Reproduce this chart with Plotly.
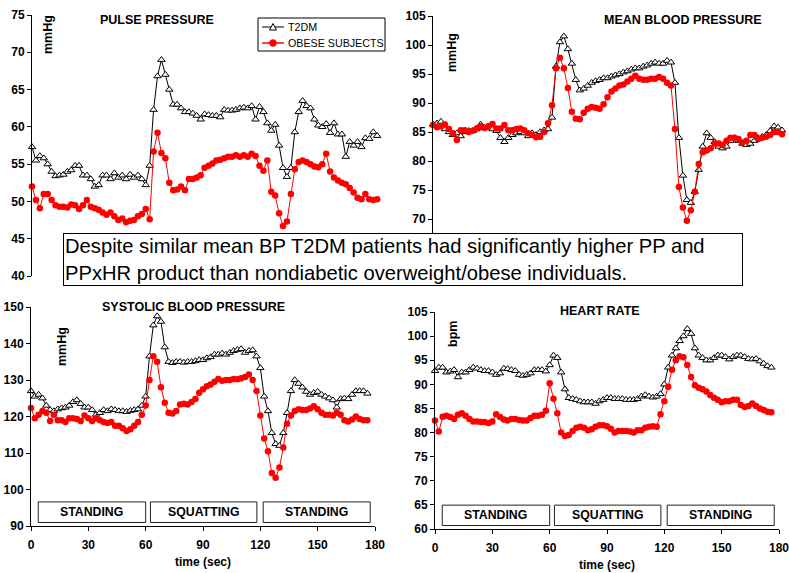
import plotly.graph_objects as go

# ---------------- data ----------------
time_s = list(range(0, 177, 2))

pp_t2dm = [57.3, 55.5, 56.1, 55.8, 55.0, 54.0, 53.4, 53.5, 53.6, 54.0,
           54.2, 54.8, 54.8, 53.5, 53.5, 53.0, 52.0, 52.2, 53.5, 53.5,
           53.0, 53.8, 53.2, 53.5, 53.0, 53.6, 53.2, 53.5, 53.0, 52.2,
           54.8, 62.3, 66.8, 69.0, 67.0, 65.0, 63.0, 63.0, 62.5, 62.0,
           62.0, 61.8, 61.5, 61.0, 61.7, 61.6, 61.5, 61.5, 61.3, 62.3,
           62.2, 62.2, 62.3, 62.5, 62.6, 62.5, 62.8, 61.0, 62.7, 62.0,
           60.5, 59.5, 60.3, 57.5, 54.5, 53.3, 54.5, 59.3, 62.0, 63.5,
           62.8, 62.5, 61.0, 60.2, 60.0, 60.4, 59.2, 60.5, 59.0, 59.0,
           56.0, 58.0, 57.5, 58.0, 57.3, 58.5, 58.4, 59.3, 58.8]
pp_obese = [52.0, 50.2, 49.1, 51.0, 51.0, 50.2, 49.5, 49.3, 49.3, 49.2,
            49.6, 49.5, 49.0, 49.5, 50.2, 49.3, 49.1, 48.9, 48.5, 48.2,
            48.5, 48.0, 47.5, 47.7, 47.2, 47.4, 47.5, 48.0, 48.3, 49.0,
            47.6, 56.7, 59.2, 56.5, 55.8, 52.5, 51.5, 51.6, 52.0, 51.5,
            53.0, 53.0, 53.2, 53.5, 54.5, 54.8, 55.1, 55.5, 55.6, 55.8,
            56.0, 56.0, 56.2, 56.0, 56.2, 56.0, 56.4, 56.1, 54.8, 54.1,
            55.5, 51.3, 50.8, 48.4, 46.7, 47.3, 51.0, 54.3, 55.3, 55.5,
            55.3, 55.0, 54.7, 54.6, 55.0, 56.4, 54.0, 53.2, 52.8, 52.5,
            52.3, 51.8, 51.2, 50.5, 50.3, 51.0, 50.3, 50.2, 50.3]

mbp_t2dm = [86.3, 86.5, 86.8, 85.5, 85.0, 84.5, 84.8, 84.3, 85.0, 85.2,
            85.2, 85.5, 86.3, 85.7, 86.0, 85.5, 85.2, 84.0, 83.3, 84.0,
            84.5, 84.8, 85.0, 84.8, 84.3, 84.8, 84.5, 85.0, 85.3, 85.5,
            87.5, 96.3, 100.5, 101.5, 99.3, 96.8, 94.0, 92.2, 92.5, 93.0,
            93.5, 93.8, 94.0, 94.3, 94.3, 94.6, 94.8, 95.0, 95.3, 95.5,
            95.8, 96.0, 96.0, 96.3, 96.5, 96.8, 97.0, 96.8, 96.8, 97.3,
            97.0, 93.5, 84.0, 77.5, 73.3, 72.8, 74.7, 78.5, 82.5, 84.8,
            84.0, 83.3, 82.5, 82.2, 82.5, 83.5, 84.0, 83.5, 83.0, 82.8,
            83.0, 83.5, 84.0, 84.2, 84.5, 85.2, 86.0, 85.8, 85.3]
mbp_obese = [86.2, 85.8, 86.0, 86.3, 85.5, 84.8, 83.6, 85.3, 85.3, 85.0,
             85.2, 85.6, 86.0, 85.7, 86.0, 86.4, 85.6, 85.6, 86.2, 85.3,
             85.3, 85.5, 85.6, 85.3, 84.8, 84.5, 84.1, 84.2, 85.0, 86.5,
             89.6, 96.0, 97.8, 96.0, 92.6, 88.5, 87.3, 87.2, 88.3, 89.0,
             89.3, 89.2, 89.0, 89.8, 91.0, 92.0, 92.5, 93.0, 93.2, 93.7,
             94.2, 94.7, 94.2, 94.0, 94.0, 94.2, 94.2, 94.5, 94.2, 93.5,
             93.0, 85.5, 75.5, 72.0, 69.7, 71.5, 74.7, 79.5, 81.5, 81.8,
             82.2, 83.0, 83.0, 82.8, 83.5, 84.0, 84.0, 83.8, 83.2, 83.5,
             84.5, 84.5, 83.8, 84.0, 84.2, 84.5, 85.0, 85.0, 84.6]

sbp_t2dm = [127.0, 125.5, 126.0, 125.0, 123.0, 121.8, 121.5, 122.0, 122.3, 122.5,
            123.0, 124.0, 124.5, 123.5, 122.5, 122.5, 121.8, 120.5, 121.0, 121.8,
            121.5, 122.0, 121.8, 121.5, 121.5, 121.3, 121.6, 121.8, 122.0, 123.0,
            125.5, 136.5, 145.0, 147.5, 146.0, 139.0, 135.0, 134.7, 135.0, 135.0,
            134.8, 135.0, 135.0, 135.2, 135.5, 135.5, 136.0, 136.3, 137.0, 137.0,
            137.3, 137.0, 137.5, 138.0, 138.3, 138.5, 137.5, 138.0, 138.2, 136.5,
            133.3, 125.5, 121.5, 115.5, 112.5, 112.0, 115.5, 121.0, 127.0, 130.0,
            129.0, 128.0, 126.8, 126.0, 126.5, 126.8, 126.0, 125.5, 125.0, 124.5,
            122.5, 124.8, 125.0, 124.8, 126.0, 127.0, 127.0, 127.0, 126.3]
sbp_obese = [122.3, 119.5, 120.5, 121.5, 121.0, 118.8, 120.5, 119.0, 119.0, 118.5,
             119.5, 119.5, 119.3, 118.8, 120.3, 119.5, 118.8, 119.5, 119.0, 118.5,
             118.2, 118.5, 117.5, 117.5, 116.8, 116.0, 116.5, 117.5, 118.5, 120.5,
             123.0, 130.0, 136.5, 135.0, 128.0, 123.8, 121.0, 120.8, 121.5, 123.3,
             123.5, 123.3, 124.0, 124.8, 126.5, 127.5, 128.3, 128.8, 129.5, 130.3,
             129.8, 130.0, 130.0, 130.3, 130.2, 130.5, 130.8, 131.5, 130.0, 127.0,
             120.3, 114.0, 110.5, 104.5, 103.2, 106.0, 111.5, 118.0, 120.3, 121.5,
             122.0, 121.8, 121.8, 122.2, 122.8, 122.0, 121.0, 120.5, 120.5, 120.3,
             121.0, 120.5, 119.0, 118.6, 119.2, 120.0, 119.3, 119.0, 119.0]

hr_t2dm = [92.8, 93.5, 93.5, 92.5, 92.7, 93.0, 91.5, 92.5, 92.5, 93.0,
           93.5, 93.3, 93.0, 92.8, 92.8, 92.5, 92.0, 92.3, 93.3, 93.2,
           93.0, 92.8, 92.0, 91.8, 92.0, 92.3, 93.0, 93.0, 93.0, 92.7,
           94.0, 96.0, 95.5, 92.5, 89.0, 87.2, 87.0, 86.8, 86.5, 86.3,
           86.3, 86.3, 86.0, 86.5, 86.8, 87.2, 87.2, 87.0, 87.0, 87.0,
           86.8, 86.8, 86.8, 87.0, 87.5, 87.8, 87.5, 87.3, 87.5, 88.0,
           90.0, 93.5, 96.0, 97.5, 99.0, 100.0, 101.5, 100.5, 97.5, 96.0,
           95.5, 95.0, 95.0, 95.5, 96.0, 96.0, 95.7, 95.2, 95.7, 96.0,
           96.0, 95.7, 95.3, 95.2, 95.3, 94.8, 94.3, 93.8, 93.5]
hr_obese = [82.5, 80.2, 83.3, 83.5, 83.2, 82.8, 83.7, 84.0, 83.5, 82.8,
            82.3, 82.3, 82.2, 82.2, 82.0, 82.3, 83.8, 83.2, 82.7, 82.5,
            82.8, 82.8, 82.6, 82.5, 82.5, 83.0, 83.5, 83.5, 83.7, 84.5,
            90.2, 87.0, 84.0, 80.0, 79.3, 79.5, 80.3, 81.0, 81.2, 81.0,
            80.5, 80.7, 81.2, 81.5, 81.5, 81.3, 80.8, 80.0, 80.3, 80.3,
            80.3, 80.2, 80.0, 80.5, 80.5, 81.0, 81.2, 81.3, 81.2, 83.8,
            86.5, 89.5, 93.0, 95.0, 95.8, 95.6, 94.0, 91.5, 89.8, 89.3,
            89.0, 88.5, 87.8, 87.2, 86.8, 86.3, 86.5, 86.5, 86.8, 86.8,
            85.7, 85.3, 85.5, 86.0, 85.5, 85.0, 84.7, 84.3, 84.2]

series_names = ["T2DM", "OBESE SUBJECTS"]
panel_titles = ["PULSE PRESSURE", "MEAN BLOOD PRESSURE",
                "SYSTOLIC BLOOD PRESSURE", "HEART RATE"]
panel_units = ["mmHg", "mmHg", "mmHg", "bpm"]
x_ticks = [0, 30, 60, 90, 120, 150, 180]
stage_labels = ["STANDING", "SQUATTING", "STANDING"]
stage_start = [3.8, 62.5, 121.5]
stage_end = [60.0, 118.2, 177.5]
note_text = ("Despite similar mean BP T2DM patients had significantly higher PP and<br>"
             "PPxHR product than nondiabetic overweight/obese individuals.")

# ---------------- figure ----------------
W, H = 789, 573
FONT = "Liberation Sans, Arial, Helvetica, sans-serif"
BLACK = "black"
RED = "#ff0000"


def px(x):
    return min(max(x / W, 0.0), 1.0)


def py(y):
    return min(max(1 - y / H, 0.0), 1.0)


fig = go.Figure()

panels = [
    (pp_t2dm, pp_obese, "x", "y"),
    (mbp_t2dm, mbp_obese, "x2", "y2"),
    (sbp_t2dm, sbp_obese, "x3", "y3"),
    (hr_t2dm, hr_obese, "x4", "y4"),
]
for a, b, xa, ya in panels:
    fig.add_trace(go.Scatter(
        x=time_s, y=a, xaxis=xa, yaxis=ya, name=series_names[0],
        mode="lines+markers", showlegend=False, cliponaxis=False,
        line=dict(color=BLACK, width=1),
        marker=dict(symbol="triangle-up", size=6.5, color="white",
                    line=dict(color=BLACK, width=1))))
    fig.add_trace(go.Scatter(
        x=time_s, y=b, xaxis=xa, yaxis=ya, name=series_names[1],
        mode="lines+markers", showlegend=False, cliponaxis=False,
        line=dict(color=RED, width=1),
        marker=dict(symbol="circle", size=6.5, color=RED, line=dict(width=0))))

tickfont = dict(family=FONT, size=12, color=BLACK, weight="bold")
yax_common = dict(showline=True, linecolor=BLACK, linewidth=1, ticks="outside",
                  ticklen=4, tickcolor=BLACK, showgrid=False, zeroline=False,
                  tickfont=tickfont, fixedrange=True, automargin=False,
                  ticklabeloverflow="allow")
xax_common = dict(showline=True, linecolor=BLACK, linewidth=1, ticks="outside",
                  ticklen=4, tickcolor=BLACK, showgrid=False, zeroline=False,
                  tickfont=tickfont, range=[0, 180], tickvals=x_ticks,
                  ticklabelstandoff=4, fixedrange=True, automargin=False,
                  ticklabeloverflow="allow",
                  title=dict(text="time (sec)", standoff=6,
                             font=dict(family=FONT, size=12, color=BLACK,
                                       weight="bold")))

fig.update_layout(
    width=W, height=H, autosize=False,
    margin=dict(l=0, r=0, t=0, b=0, pad=0, autoexpand=False),
    paper_bgcolor="white", plot_bgcolor="white",
    font=dict(family=FONT, color=BLACK),
    showlegend=False,
    xaxis=dict(domain=[px(32), px(385)], range=[0, 180], visible=False,
               anchor="y", automargin=False),
    yaxis=dict(domain=[py(276), py(15)], range=[40, 75], dtick=5, anchor="x",
               **yax_common),
    xaxis2=dict(domain=[px(433), 1.0], range=[0, 179.5], visible=False,
                anchor="y2", automargin=False),
    yaxis2=dict(domain=[py(248), py(16)], range=[65, 105],
                tickvals=[70, 75, 80, 85, 90, 95, 100, 105], anchor="x2",
                **yax_common),
    xaxis3=dict(domain=[px(31), px(375)], anchor="y3", **xax_common),
    yaxis3=dict(domain=[py(526), py(307)], range=[90, 150], dtick=10, anchor="x3",
                **yax_common),
    xaxis4=dict(domain=[px(435), px(779)], anchor="y4", **xax_common),
    yaxis4=dict(domain=[py(529), py(312)], range=[60, 105], dtick=5, anchor="x4",
                **yax_common),
)

shapes = []
annotations = []

# stage boxes on the bottom panels
for xr, yr in (("x3", "y3 domain"), ("x4", "y4 domain")):
    for lab, s0, s1 in zip(stage_labels, stage_start, stage_end):
        shapes.append(dict(type="rect", xref=xr, yref=yr, x0=s0, x1=s1,
                           y0=0.016, y1=0.11, line=dict(color="#222", width=1),
                           fillcolor="white", layer="above"))
        annotations.append(dict(xref=xr, yref=yr, x=(s0 + s1) / 2, y=0.063,
                                text=lab, showarrow=False, xanchor="center",
                                yanchor="middle",
                                font=dict(family=FONT, size=12.3, color=BLACK,
                                          weight="bold")))

# panel titles and units
title_pos = [(157, 20), (683, 20), (193, 307), (600, 311)]
unit_pos = [(48, 35), (452, 53), (62, 347), (453, 334)]
for t, (tx, ty), u, (ux, uy) in zip(panel_titles, title_pos, panel_units, unit_pos):
    annotations.append(dict(xref="paper", yref="paper", x=px(tx), y=py(ty),
                            text=t, showarrow=False, xanchor="center",
                            yanchor="middle",
                            font=dict(family=FONT, size=12.5, color=BLACK,
                                      weight="bold")))
    annotations.append(dict(xref="paper", yref="paper", x=px(ux), y=py(uy),
                            text=u, showarrow=False, textangle=-90,
                            xanchor="center", yanchor="middle",
                            font=dict(family=FONT, size=12.5, color=BLACK,
                                      weight="bold")))

# legend (drawn as a small framed key)
LX0, LX1, LY0, LY1 = 258, 385, 18, 51
shapes.append(dict(type="rect", xref="paper", yref="paper",
                   x0=px(LX0), x1=px(LX1), y0=py(LY1), y1=py(LY0),
                   line=dict(color=BLACK, width=1), fillcolor="white"))
key_rows = [(27, BLACK, "triangle"), (43, RED, "circle")]
for name, (ry, col, sym) in zip(series_names, key_rows):
    shapes.append(dict(type="line", xref="paper", yref="paper",
                       x0=px(262), x1=px(284), y0=py(ry), y1=py(ry),
                       line=dict(color=col, width=1 if sym == "triangle" else 1.5)))
    cx = 273
    if sym == "triangle":
        path = "M {} {} L {} {} L {} {} Z".format(
            px(cx - 3.5), py(ry + 3), px(cx + 3.5), py(ry + 3), px(cx), py(ry - 3.5))
        shapes.append(dict(type="path", xref="paper", yref="paper", path=path,
                           line=dict(color=BLACK, width=1), fillcolor="white"))
    else:
        shapes.append(dict(type="circle", xref="paper", yref="paper",
                           x0=px(cx - 3.5), x1=px(cx + 3.5),
                           y0=py(ry + 3.5), y1=py(ry - 3.5),
                           line=dict(color=RED, width=0.5), fillcolor=RED))
    annotations.append(dict(xref="paper", yref="paper", x=px(286), y=py(ry),
                            text=name, showarrow=False, xanchor="left",
                            yanchor="middle",
                            font=dict(family=FONT, size=10.7, color=BLACK)))

# note box
annotations.append(dict(xref="paper", yref="paper", x=px(402.5), y=py(259.5),
                        xanchor="center", yanchor="middle", text=note_text,
                        showarrow=False, align="left", valign="middle",
                        bgcolor="white", bordercolor=BLACK, borderwidth=1,
                        borderpad=1, width=676, height=49,
                        font=dict(family=FONT, size=20.2, color=BLACK)))

fig.update_layout(shapes=shapes, annotations=annotations)

# remove the default page margin synchronously, right after the plot call
reset_margin = "}); document.body.style.margin='0px'; (function(){"
fig.write_html("out.html", config={"displayModeBar": False},
               post_script=reset_margin)
